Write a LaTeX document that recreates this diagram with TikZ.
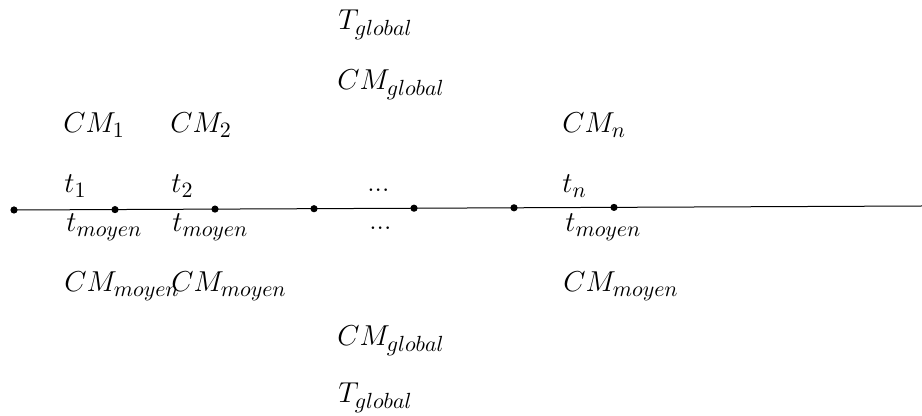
\documentclass[tikz,border=0pt]{standalone}
\DeclareMathSizes{13.5}{13.5}{11}{8}
\begin{document}
\begin{tikzpicture}[x=0.5pt,y=-0.5pt,
  lbl/.style={anchor=base west,inner sep=0pt,font=\fontsize{13.5}{16}\selectfont},
  pt/.style={circle,fill=black,inner sep=0pt,minimum size=3.6pt}]
\useasboundingbox (0,0) rectangle (922,416);
% timeline points
\node[pt] (p0) at (14,210.0) {};
\node[pt] (p1) at (115,209.6) {};
\node[pt] (p2) at (215,209.1) {};
\node[pt] (p3) at (314,208.7) {};
\node[pt] (p4) at (414,208.2) {};
\node[pt] (p5) at (514,207.8) {};
\node[pt] (p6) at (614,207.4) {};
\coordinate (pend) at (922,206);
\draw[line width=0.5pt] (p0.center) -- (pend);
% top labels
\node[lbl] (tg1) at (338,30) {$T_{global}$};
\node[lbl] (cmg1) at (337,90) {$CM_{global}$};
\node[lbl] (cm1) at (63,133) {$CM_1$};
\node[lbl] (cm2) at (170,133) {$CM_2$};
\node[lbl] (cmn) at (562,133) {$CM_n$};
\node[lbl] (t1) at (64,193) {$t_1$};
\node[lbl] (t2) at (171,193) {$t_2$};
\node[lbl] (dots1) at (367,192) {...};
\node[lbl] (tn) at (562,193) {$t_n$};
% bottom labels
\node[lbl] (tm1) at (66,232) {$t_{moyen}$};
\node[lbl] (tm2) at (172,232) {$t_{moyen}$};
\node[lbl] (dots2) at (369,230) {...};
\node[lbl] (tmn) at (565,232) {$t_{moyen}$};
\node[lbl] (cmm1) at (64,292) {$CM_{moyen}$};
\node[lbl] (cmm2) at (171,292) {$CM_{moyen}$};
\node[lbl] (cmmn) at (563,292) {$CM_{moyen}$};
\node[lbl] (cmg2) at (337,346) {$CM_{global}$};
\node[lbl] (tg2) at (338,403) {$T_{global}$};
\end{tikzpicture}
\end{document}
